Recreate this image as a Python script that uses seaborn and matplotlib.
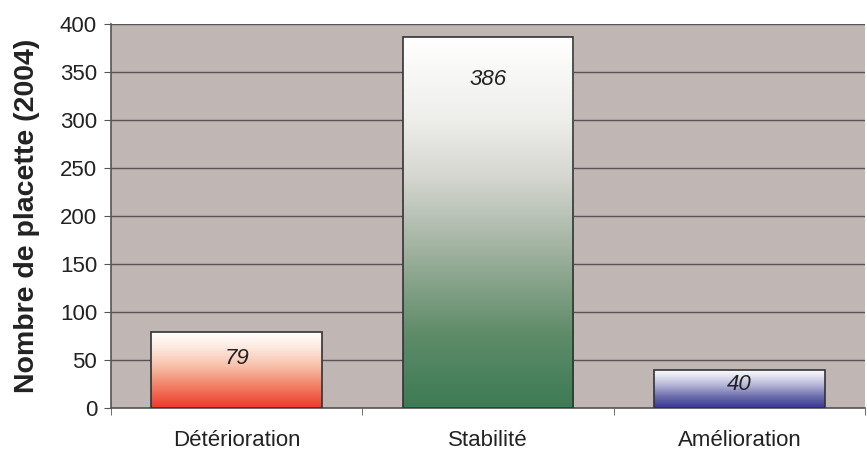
import matplotlib
matplotlib.use('Agg')
import matplotlib.pyplot as plt
import numpy as np
import pandas as pd
import seaborn as sns
from matplotlib.colors import LinearSegmentedColormap

# Data
categories = ['Détérioration', 'Stabilité', 'Amélioration']
counts = [79, 386, 40]
labels = ['79', '386', '40']

# gradient stops (bottom -> top) for each bar
gradients = [
    [(0.0, '#EE3A2A'), (0.3, '#F28268'), (0.55, '#F8C0AA'), (0.8, '#FDE9E0'), (1.0, '#FFFFFF')],
    [(0.0, '#3C7B55'), (0.2, '#5F8C69'), (0.35, '#8AA58D'), (0.5, '#B4BFB2'),
     (0.62, '#D4D6CF'), (0.78, '#EEEEEB'), (1.0, '#FFFFFF')],
    [(0.0, '#36368F'), (0.3, '#6E6EAE'), (0.6, '#B8B8DA'), (0.85, '#E8E8F3'), (1.0, '#FFFFFF')],
]
# label heights inside the bars (data units), as placed in the original
label_y = [52, 342, 24]

df = pd.DataFrame({'cat': categories, 'n': counts})

sns.set_style('white')
plt.rcParams['font.family'] = ['Liberation Sans', 'DejaVu Sans']

fig = plt.figure(figsize=(8.67, 4.5), dpi=100, facecolor='white')
ax = fig.add_axes([111 / 867, 42 / 450, 754 / 867, 384 / 450])
ax.set_facecolor('#C0B6B3')

sns.barplot(data=df, x='cat', y='n', width=0.68, color='white',
            edgecolor='#333333', linewidth=1.2, ax=ax, zorder=3)

ax.set_ylim(0, 400)
ax.set_xlim(-0.5, 2.5)
ax.set_yticks(range(0, 401, 50))
ax.grid(axis='y', color='#555555', linewidth=1.0, zorder=0)
ax.set_axisbelow(True)

# Vertical gradient fill inside each bar
for patch, stops, lab, ly in zip(ax.patches, gradients, labels, label_y):
    cmap = LinearSegmentedColormap.from_list('g', stops)
    x0, w = patch.get_x(), patch.get_width()
    grad = np.linspace(0, 1, 256).reshape(-1, 1)
    im = ax.imshow(grad, cmap=cmap, aspect='auto', origin='lower',
                   extent=[x0, x0 + w, 0, patch.get_height()], zorder=3)
    im.set_clip_path(patch)
    patch.set_facecolor('none')
    patch.set_zorder(4)
    ax.text(x0 + w / 2, ly, lab, ha='center', va='center',
            fontsize=16, style='italic', color='#222222', zorder=5)

ax.set_xlim(-0.5, 2.5)
ax.set_ylim(0, 400)

for s in ['top', 'right']:
    ax.spines[s].set_visible(False)
ax.spines['left'].set_color('#555555')
ax.spines['bottom'].set_color('#555555')
ax.spines['left'].set_linewidth(1.2)
ax.spines['bottom'].set_linewidth(1.2)

ax.set_xticks([0, 1, 2])
ax.set_xticks([-0.5, 0.5, 1.5, 2.5], minor=True)
ax.tick_params(axis='x', which='major', length=0, pad=16, labelsize=16, colors='#222222')
ax.tick_params(axis='x', which='minor', length=5, color='#555555', direction='out', bottom=True)
ax.tick_params(axis='y', length=5, color='#555555', direction='out', left=True,
               labelsize=16, colors='#222222', pad=5)
ax.set_xlabel('')
ax.set_ylabel('Nombre de placette (2004)', fontsize=20.5, fontweight='bold',
              color='#222222', labelpad=14)

fig.savefig('out.png', dpi=100, facecolor='white')
